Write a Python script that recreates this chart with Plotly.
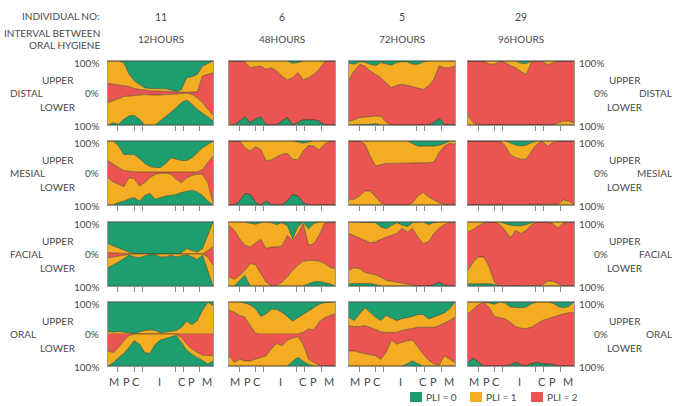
import plotly.graph_objects as go

W, H = 682, 406

# positions along the dental arch (molar ... molar)
X = list(range(21))
TICKS = [1.9, 5.0, 6.6, 12.8, 14.3, 17.5]
TOOTH_LABELS = ["M", "P", "C", "I", "C", "P", "M"]
TOOTH_LABEL_POS = [1.2, 3.5, 5.3, 9.8, 14.0, 15.9, 18.8]
SITES = ["DISTAL", "MESIAL", "FACIAL", "ORAL"]
INDIVIDUALS = ["11", "6", "5", "29"]
INTERVALS = ["12HOURS", "48HOURS", "72HOURS", "96HOURS"]

# % of sites with PLI = 2 (red) and PLI = 1 (yellow); remainder is PLI = 0 (green)
DISTAL_11_UPPER_PLI2 = [30, 27, 24, 22, 20, 14, 11, 9, 7, 6, 5, 5, 5, 3, 2, 2, 3, 4, 53, 58, 63]
DISTAL_11_UPPER_PLI1 = [70, 73, 76, 73, 39, 24, 16, 7, 7, 8, 9, 8, 4, 2, 9, 46, 48, 54, 31, 34, 37]
DISTAL_11_LOWER_PLI2 = [30, 25, 18, 11, 9, 7, 6, 5, 6, 7, 6, 5, 4, 3, 2, 1, 4, 15, 30, 51, 70]
DISTAL_11_LOWER_PLI1 = [70, 68, 80, 71, 63, 63, 76, 95, 94, 93, 81, 69, 57, 43, 28, 21, 31, 36, 33, 23, 18]

DISTAL_6_UPPER_PLI2 = [100, 100, 100, 97, 79, 82, 84, 74, 79, 69, 53, 41, 48, 64, 41, 48, 58, 74, 97, 100, 100]
DISTAL_6_UPPER_PLI1 = [0, 0, 0, 3, 21, 18, 16, 26, 21, 31, 47, 59, 45, 31, 59, 52, 42, 26, 3, 0, 0]
DISTAL_6_LOWER_PLI2 = [93, 100, 88, 74, 93, 82, 75, 98, 100, 100, 88, 77, 100, 93, 84, 84, 84, 88, 100, 100, 100]
DISTAL_6_LOWER_PLI1 = [7, 0, 0, 0, 0, 0, 0, 0, 0, 0, 0, 0, 0, 0, 0, 0, 0, 0, 0, 0, 0]

DISTAL_5_UPPER_PLI2 = [43, 69, 90, 84, 69, 58, 48, 32, 17, 24, 27, 24, 19, 14, 11, 22, 43, 84, 79, 79, 84]
DISTAL_5_UPPER_PLI1 = [50, 21, 8, 12, 21, 28, 47, 60, 70, 71, 71, 73, 71, 76, 86, 78, 57, 16, 21, 21, 16]
DISTAL_5_LOWER_PLI2 = [88, 84, 77, 75, 74, 72, 72, 91, 100, 100, 100, 100, 100, 100, 100, 100, 93, 79, 98, 100, 100]
DISTAL_5_LOWER_PLI1 = [12, 16, 23, 25, 24, 24, 28, 9, 0, 0, 0, 0, 0, 0, 0, 0, 0, 0, 0, 0, 0]

DISTAL_29_UPPER_PLI2 = [100, 100, 100, 100, 90, 90, 100, 95, 86, 79, 67, 58, 98, 100, 100, 88, 93, 100, 100, 100, 100]
DISTAL_29_UPPER_PLI1 = [0, 0, 0, 0, 10, 10, 0, 5, 14, 21, 26, 34, 2, 0, 0, 12, 7, 0, 0, 0, 0]
DISTAL_29_LOWER_PLI2 = [72, 93, 100, 100, 100, 100, 100, 100, 100, 100, 100, 100, 100, 100, 100, 100, 100, 93, 88, 88, 93]
DISTAL_29_LOWER_PLI1 = [28, 7, 0, 0, 0, 0, 0, 0, 0, 0, 0, 0, 0, 0, 0, 0, 0, 7, 12, 12, 7]

MESIAL_11_UPPER_PLI2 = [38, 27, 17, 8, 5, 4, 3, 3, 3, 3, 3, 3, 3, 3, 3, 3, 3, 3, 11, 32, 53]
MESIAL_11_UPPER_PLI1 = [62, 73, 68, 50, 53, 54, 42, 27, 17, 14, 14, 27, 45, 40, 36, 36, 45, 60, 68, 57, 47]
MESIAL_11_LOWER_PLI2 = [15, 28, 35, 43, 15, 18, 41, 30, 15, 4, 1, 1, 4, 20, 30, 15, 7, 4, 4, 30, 93]
MESIAL_11_LOWER_PLI1 = [85, 72, 57, 45, 66, 59, 47, 40, 49, 78, 76, 71, 66, 47, 31, 42, 47, 55, 66, 57, 7]

MESIAL_6_UPPER_PLI2 = [100, 100, 100, 79, 69, 82, 74, 38, 41, 51, 58, 61, 43, 41, 69, 86, 84, 72, 90, 100, 100]
MESIAL_6_UPPER_PLI1 = [0, 0, 0, 21, 31, 18, 26, 62, 59, 49, 42, 39, 57, 56, 24, 11, 16, 28, 10, 0, 0]
MESIAL_6_LOWER_PLI2 = [100, 100, 88, 64, 67, 93, 100, 88, 98, 100, 100, 88, 67, 72, 93, 100, 100, 100, 100, 100, 100]
MESIAL_6_LOWER_PLI1 = [0, 0, 0, 0, 0, 0, 0, 0, 0, 0, 0, 0, 0, 0, 0, 0, 0, 0, 0, 0, 0]

MESIAL_5_UPPER_PLI2 = [100, 100, 100, 90, 53, 22, 27, 30, 30, 30, 30, 30, 30, 32, 32, 32, 34, 64, 84, 93, 90]
MESIAL_5_UPPER_PLI1 = [0, 0, 0, 10, 47, 78, 73, 70, 70, 70, 70, 70, 62, 52, 52, 52, 50, 23, 8, 7, 10]
MESIAL_5_LOWER_PLI2 = [82, 82, 72, 56, 56, 74, 93, 100, 100, 100, 100, 100, 93, 72, 61, 74, 84, 93, 98, 100, 100]
MESIAL_5_LOWER_PLI1 = [18, 18, 28, 44, 44, 26, 7, 0, 0, 0, 0, 0, 7, 28, 39, 26, 16, 7, 2, 0, 0]

MESIAL_29_UPPER_PLI2 = [100, 100, 100, 100, 100, 100, 100, 86, 58, 48, 43, 43, 69, 90, 100, 84, 95, 100, 100, 100, 100]
MESIAL_29_UPPER_PLI1 = [0, 0, 0, 0, 0, 0, 0, 14, 36, 39, 42, 44, 26, 10, 0, 16, 5, 0, 0, 0, 0]
MESIAL_29_LOWER_PLI2 = [100, 100, 100, 100, 100, 100, 100, 100, 100, 100, 100, 100, 100, 100, 100, 100, 100, 98, 84, 88, 98]
MESIAL_29_LOWER_PLI1 = [0, 0, 0, 0, 0, 0, 0, 0, 0, 0, 0, 0, 0, 0, 0, 0, 0, 2, 16, 12, 2]

FACIAL_11_UPPER_PLI2 = [4, 3, 2, 1, 0, 0, 0, 0, 0, 0, 0, 0, 0, 0, 0, 0, 0, 0, 0, 11, 22]
FACIAL_11_UPPER_PLI1 = [28, 22, 17, 12, 6, 2, 1, 0, 0, 0, 0, 0, 0, 0, 4, 17, 11, 6, 17, 47, 78]
FACIAL_11_LOWER_PLI2 = [12, 9, 6, 3, 1, 0, 0, 0, 0, 0, 0, 0, 0, 0, 0, 0, 0, 0, 0, 9, 35]
FACIAL_11_LOWER_PLI1 = [31, 26, 19, 11, 3, 9, 11, 6, 2, 2, 9, 9, 4, 9, 6, 2, 9, 17, 4, 42, 65]

FACIAL_6_UPPER_PLI2 = [89, 74, 48, 27, 22, 35, 46, 17, 22, 22, 25, 58, 43, 64, 95, 27, 32, 58, 95, 100, 100]
FACIAL_6_UPPER_PLI1 = [11, 26, 52, 73, 74, 58, 52, 83, 76, 70, 73, 31, 5, 21, 5, 52, 63, 42, 5, 0, 0]
FACIAL_6_LOWER_PLI2 = [72, 79, 67, 51, 30, 33, 61, 88, 100, 98, 88, 72, 51, 35, 23, 20, 20, 22, 30, 41, 46]
FACIAL_6_LOWER_PLI1 = [28, 21, 16, 16, 70, 67, 39, 12, 0, 2, 12, 28, 49, 65, 77, 73, 67, 64, 59, 52, 54]

FACIAL_5_UPPER_PLI2 = [64, 56, 50, 43, 35, 38, 46, 53, 58, 64, 81, 69, 79, 53, 32, 38, 64, 81, 92, 98, 100]
FACIAL_5_UPPER_PLI1 = [36, 44, 50, 57, 65, 60, 39, 26, 31, 34, 10, 16, 19, 47, 68, 54, 34, 19, 8, 2, 0]
FACIAL_5_LOWER_PLI2 = [51, 43, 46, 58, 61, 65, 72, 82, 85, 88, 91, 95, 98, 100, 100, 100, 96, 88, 98, 100, 100]
FACIAL_5_LOWER_PLI1 = [42, 50, 47, 34, 31, 30, 28, 18, 15, 12, 9, 5, 2, 0, 0, 0, 0, 0, 0, 0, 0]

FACIAL_29_UPPER_PLI2 = [69, 77, 88, 98, 100, 100, 92, 74, 50, 74, 64, 74, 92, 100, 100, 100, 95, 81, 98, 100, 100]
FACIAL_29_UPPER_PLI1 = [31, 23, 12, 2, 0, 0, 8, 21, 40, 14, 24, 18, 6, 0, 0, 0, 5, 19, 2, 0, 0]
FACIAL_29_LOWER_PLI2 = [51, 25, 9, 9, 41, 88, 100, 100, 100, 100, 100, 100, 100, 100, 98, 85, 85, 93, 100, 100, 100]
FACIAL_29_LOWER_PLI1 = [42, 68, 83, 83, 52, 7, 0, 0, 0, 0, 0, 0, 0, 0, 2, 15, 15, 7, 0, 0, 0]

ORAL_11_UPPER_PLI2 = [0, 0, 0, 0, 0, 0, 0, 0, 0, 0, 0, 0, 0, 0, 0, 0, 0, 0, 0, 0, 0]
ORAL_11_UPPER_PLI1 = [8, 6, 8, 7, 4, 2, 7, 11, 13, 11, 4, 6, 8, 11, 21, 40, 29, 42, 74, 100, 89]
ORAL_11_LOWER_PLI2 = [53, 58, 42, 21, 5, 0, 0, 0, 0, 0, 0, 0, 0, 0, 11, 32, 47, 58, 66, 68, 68]
ORAL_11_LOWER_PLI1 = [47, 32, 32, 40, 37, 21, 32, 58, 61, 32, 19, 14, 8, 4, 16, 19, 16, 16, 16, 26, 16]

ORAL_6_UPPER_PLI2 = [74, 68, 58, 53, 26, 2, 0, 0, 0, 0, 0, 0, 0, 0, 5, 16, 13, 37, 51, 58, 63]
ORAL_6_UPPER_PLI1 = [26, 32, 42, 44, 65, 77, 55, 63, 77, 77, 68, 55, 40, 51, 56, 56, 69, 56, 47, 42, 37]
ORAL_6_LOWER_PLI2 = [68, 89, 79, 84, 84, 79, 74, 68, 47, 29, 37, 19, 13, 8, 32, 79, 89, 97, 100, 100, 100]
ORAL_6_LOWER_PLI1 = [32, 11, 21, 16, 16, 21, 26, 32, 53, 71, 63, 81, 72, 65, 53, 16, 11, 3, 0, 0, 0]

ORAL_5_UPPER_PLI2 = [26, 23, 23, 26, 21, 13, 7, 5, 5, 5, 11, 15, 19, 21, 21, 21, 21, 26, 34, 42, 53]
ORAL_5_UPPER_PLI1 = [26, 19, 40, 56, 47, 40, 35, 53, 45, 37, 37, 36, 36, 40, 40, 26, 32, 32, 32, 37, 47]
ORAL_5_LOWER_PLI2 = [53, 53, 58, 61, 65, 68, 79, 58, 19, 32, 26, 21, 19, 42, 63, 82, 93, 97, 68, 79, 89]
ORAL_5_LOWER_PLI1 = [47, 47, 42, 39, 35, 32, 21, 42, 81, 68, 74, 72, 65, 51, 37, 18, 7, 3, 32, 21, 11]

ORAL_29_UPPER_PLI2 = [63, 79, 92, 100, 82, 55, 50, 47, 37, 23, 18, 17, 21, 32, 42, 47, 53, 58, 63, 66, 68]
ORAL_29_UPPER_PLI1 = [37, 21, 8, 0, 15, 38, 50, 50, 47, 59, 64, 67, 74, 68, 58, 53, 44, 28, 19, 20, 32]
ORAL_29_LOWER_PLI2 = [89, 76, 89, 100, 100, 100, 100, 100, 97, 89, 97, 100, 93, 89, 93, 93, 95, 100, 100, 100, 100]
ORAL_29_LOWER_PLI1 = [0, 0, 0, 0, 0, 0, 0, 0, 0, 0, 0, 0, 0, 0, 0, 0, 0, 0, 0, 0, 0]

PANELS = {
    ("DISTAL", "11"): (DISTAL_11_UPPER_PLI2, DISTAL_11_UPPER_PLI1, DISTAL_11_LOWER_PLI2, DISTAL_11_LOWER_PLI1),
    ("DISTAL", "6"): (DISTAL_6_UPPER_PLI2, DISTAL_6_UPPER_PLI1, DISTAL_6_LOWER_PLI2, DISTAL_6_LOWER_PLI1),
    ("DISTAL", "5"): (DISTAL_5_UPPER_PLI2, DISTAL_5_UPPER_PLI1, DISTAL_5_LOWER_PLI2, DISTAL_5_LOWER_PLI1),
    ("DISTAL", "29"): (DISTAL_29_UPPER_PLI2, DISTAL_29_UPPER_PLI1, DISTAL_29_LOWER_PLI2, DISTAL_29_LOWER_PLI1),
    ("MESIAL", "11"): (MESIAL_11_UPPER_PLI2, MESIAL_11_UPPER_PLI1, MESIAL_11_LOWER_PLI2, MESIAL_11_LOWER_PLI1),
    ("MESIAL", "6"): (MESIAL_6_UPPER_PLI2, MESIAL_6_UPPER_PLI1, MESIAL_6_LOWER_PLI2, MESIAL_6_LOWER_PLI1),
    ("MESIAL", "5"): (MESIAL_5_UPPER_PLI2, MESIAL_5_UPPER_PLI1, MESIAL_5_LOWER_PLI2, MESIAL_5_LOWER_PLI1),
    ("MESIAL", "29"): (MESIAL_29_UPPER_PLI2, MESIAL_29_UPPER_PLI1, MESIAL_29_LOWER_PLI2, MESIAL_29_LOWER_PLI1),
    ("FACIAL", "11"): (FACIAL_11_UPPER_PLI2, FACIAL_11_UPPER_PLI1, FACIAL_11_LOWER_PLI2, FACIAL_11_LOWER_PLI1),
    ("FACIAL", "6"): (FACIAL_6_UPPER_PLI2, FACIAL_6_UPPER_PLI1, FACIAL_6_LOWER_PLI2, FACIAL_6_LOWER_PLI1),
    ("FACIAL", "5"): (FACIAL_5_UPPER_PLI2, FACIAL_5_UPPER_PLI1, FACIAL_5_LOWER_PLI2, FACIAL_5_LOWER_PLI1),
    ("FACIAL", "29"): (FACIAL_29_UPPER_PLI2, FACIAL_29_UPPER_PLI1, FACIAL_29_LOWER_PLI2, FACIAL_29_LOWER_PLI1),
    ("ORAL", "11"): (ORAL_11_UPPER_PLI2, ORAL_11_UPPER_PLI1, ORAL_11_LOWER_PLI2, ORAL_11_LOWER_PLI1),
    ("ORAL", "6"): (ORAL_6_UPPER_PLI2, ORAL_6_UPPER_PLI1, ORAL_6_LOWER_PLI2, ORAL_6_LOWER_PLI1),
    ("ORAL", "5"): (ORAL_5_UPPER_PLI2, ORAL_5_UPPER_PLI1, ORAL_5_LOWER_PLI2, ORAL_5_LOWER_PLI1),
    ("ORAL", "29"): (ORAL_29_UPPER_PLI2, ORAL_29_UPPER_PLI1, ORAL_29_LOWER_PLI2, ORAL_29_LOWER_PLI1),
}

GREEN = "#1E9E6E"
YELLOW = "#F4AD22"
RED = "#EB5551"
EDGE = "rgba(60,55,40,0.7)"
TEXT = "#4a4a4a"
FONT = "Lato"

# layout geometry (pixels)
COL_X = [(108, 213), (229, 335), (349, 455), (468, 574)]
ROW_Y = [(61, 125), (141, 205), (222, 286), (302, 366)]


def px(x, y):
    return x / W, 1 - y / H


fig = go.Figure()
annotations = []
layout_axes = {}

k = 0
for r, site in enumerate(SITES):
    for c, ind in enumerate(INDIVIDUALS):
        k += 1
        up2, up1, lo2, lo1 = PANELS[(site, ind)]
        up0 = [max(0, 100 - a - b) for a, b in zip(up2, up1)]
        lo0 = [max(0, 100 - a - b) for a, b in zip(lo2, lo1)]
        xa, ya = f"x{k}", f"y{k}"
        for grp, vals, sign in (("u", (up2, up1, up0), 1), ("l", (lo2, lo1, lo0), -1)):
            for v, col in zip(vals, (RED, YELLOW, GREEN)):
                fig.add_trace(go.Scatter(
                    x=X, y=[sign * t for t in v], xaxis=xa, yaxis=ya,
                    mode="lines", stackgroup=f"{grp}{k}", fillcolor=col,
                    line=dict(color=EDGE, width=0.8), hoverinfo="skip",
                    showlegend=False))
        x0, x1 = COL_X[c]
        y0, y1 = ROW_Y[r]
        suffix = "" if k == 1 else str(k)
        layout_axes[f"xaxis{suffix}"] = dict(
            domain=[x0 / W, x1 / W], range=[0, 20], anchor=ya,
            tickmode="array", tickvals=TICKS, ticks="outside", ticklen=5,
            tickwidth=1, tickcolor="#8a8a8a", showticklabels=False,
            showgrid=False, zeroline=False, showline=True, mirror=True,
            linecolor="#9a9a9a", linewidth=1, fixedrange=True)
        layout_axes[f"yaxis{suffix}"] = dict(
            domain=[1 - y1 / H, 1 - y0 / H], range=[-100, 100], anchor=xa,
            showticklabels=False, ticks="", showgrid=False, zeroline=False,
            showline=True, mirror=True, linecolor="#9a9a9a", linewidth=1,
            fixedrange=True)
        if r == len(SITES) - 1:
            for lab, pos in zip(TOOTH_LABELS, TOOTH_LABEL_POS):
                annotations.append(dict(
                    text=lab, x=pos, xref=xa, y=px(0, 381)[1], yref="paper",
                    xanchor="center", yanchor="middle", showarrow=False,
                    font=dict(size=11, color=TEXT, family=FONT)))


def label(text, x, y, anchor="center", size=10):
    ax, ay = px(x, y)
    annotations.append(dict(text=text, x=ax, y=ay, xref="paper", yref="paper",
                            xanchor=anchor, yanchor="middle", showarrow=False,
                            font=dict(size=size, color=TEXT, family=FONT)))


# header
label("INDIVIDUAL NO:", 102, 16, "right")
label("INTERVAL BETWEEN", 102, 33, "right")
label("ORAL HYGIENE", 102, 45, "right")
for c, (ind, itv) in enumerate(zip(INDIVIDUALS, INTERVALS)):
    cx = (COL_X[c][0] + COL_X[c][1]) / 2
    label(ind, cx, 17, "center", 10.5)
    label(itv, cx, 39, "center")

# row labels
for r, site in enumerate(SITES):
    top, bot = ROW_Y[r]
    mid = (top + bot) / 2
    label("100%", 101, top + 2, "right")
    label("UPPER", 58, mid - 13)
    label(site, 8, mid, "left")
    label("0%", 101, mid, "right")
    label("LOWER", 58, mid + 14)
    label("100%", 101, bot + 1, "right")
    label("100%", 577, top + 2, "left")
    label("UPPER", 625, mid - 13)
    label("0%", 592, mid, "left")
    label(site, 674, mid, "right")
    label("LOWER", 625, mid + 14)
    label("100%", 577, bot + 1, "left")

# legend
shapes = []
for x0, col, txt in ((410, GREEN, "PLI = 0"), (470, YELLOW, "PLI = 1"), (531, RED, "PLI = 2")):
    a0, b0 = px(x0, 392)
    a1, b1 = px(x0 + 12, 402)
    shapes.append(dict(type="rect", xref="paper", yref="paper", x0=a0, x1=a1,
                       y0=b1, y1=b0, fillcolor=col, line=dict(width=0)))
    label(txt, x0 + 14, 397, "left")

fig.update_layout(
    width=W, height=H, autosize=False,
    margin=dict(l=0, r=0, t=0, b=0),
    paper_bgcolor="white", plot_bgcolor="white",
    font=dict(family=FONT, color=TEXT, size=10),
    showlegend=False, annotations=annotations, shapes=shapes,
    **layout_axes)

fig.write_html("out.html", config={"displayModeBar": False, "staticPlot": True},
               post_script="document.body.style.margin='0';")
